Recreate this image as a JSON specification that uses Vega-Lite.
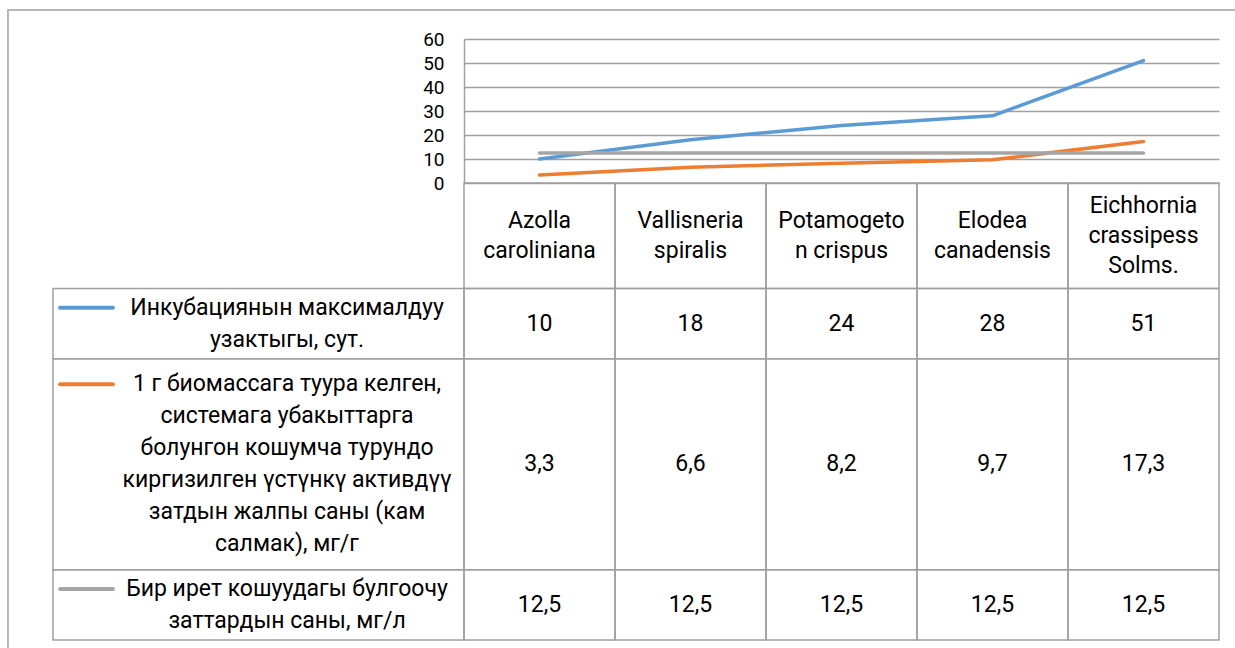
{
  "$schema": "https://vega.github.io/schema/vega-lite/v6.json",
  "width": 755,
  "height": 144,
  "autosize": {"type": "none"},
  "padding": {"left": 464, "top": 39, "right": 16, "bottom": 465},
  "background": "white",
  "config": {
    "view": {"stroke": null},
    "font": "Roboto",
    "locale": {"number": {"decimal": ",", "thousands": " ", "grouping": [3], "currency": ["", ""]}}
  },
  "datasets": {
    "species": [
      {"species": "Azolla caroliniana", "head": "Azolla\ncaroliniana"},
      {"species": "Vallisneria spiralis", "head": "Vallisneria\nspiralis"},
      {"species": "Potamogeton crispus", "head": "Potamogeto\nn crispus"},
      {"species": "Elodea canadensis", "head": "Elodea\ncanadensis"},
      {"species": "Eichhornia crassipess Solms", "head": "Eichhornia\ncrassipess\nSolms."}
    ],
    "series": [
      {"series": "Инкубациянын максималдуу узактыгы, сут.", "label": "Инкубациянын максималдуу\nузактыгы, сут.", "order": 1,
       "Azolla caroliniana": 10, "Vallisneria spiralis": 18, "Potamogeton crispus": 24, "Elodea canadensis": 28, "Eichhornia crassipess Solms": 51},
      {"series": "1 г биомассага туура келген, системага убакыттарга болунгон кошумча турундо киргизилген үстүнкү активдүү затдын жалпы саны (кам салмак), мг/г", "label": "1 г биомассага туура келген,\nсистемага убакыттарга\nболунгон кошумча турундо\nкиргизилген үстүнкү активдүү\nзатдын жалпы саны (кам\nсалмак), мг/г", "order": 2,
       "Azolla caroliniana": 3.3, "Vallisneria spiralis": 6.6, "Potamogeton crispus": 8.2, "Elodea canadensis": 9.7, "Eichhornia crassipess Solms": 17.3},
      {"series": "Бир ирет кошуудагы булгоочу заттардын саны, мг/л", "label": "Бир ирет кошуудагы булгоочу\nзаттардын саны, мг/л", "order": 3,
       "Azolla caroliniana": 12.5, "Vallisneria spiralis": 12.5, "Potamogeton crispus": 12.5, "Elodea canadensis": 12.5, "Eichhornia crassipess Solms": 12.5}
    ],
    "frame": [{"part": "frame"}]
  },
  "resolve": {"scale": {"x": "independent", "y": "independent"}, "axis": {"x": "independent", "y": "independent"}},
  "layer": [
    {
      "data": {"name": "frame"},
      "mark": {"type": "rect", "fillOpacity": 0, "stroke": "#a0a0a0", "strokeWidth": 1.5},
      "encoding": {
        "x": {"datum": -3.02, "type": "quantitative", "scale": {"domain": [0, 5], "nice": false, "zero": false}, "axis": null},
        "x2": {"datum": 5.14},
        "y": {"datum": -4.921, "type": "quantitative", "scale": {"domain": [-4.096, 0], "reverse": true, "nice": false, "zero": false}, "axis": null},
        "y2": {"datum": 13.34}
      }
    },
    {
      "data": {"name": "species"},
      "transform": [
        {"calculate": "length(split(datum.head, '\\n'))", "as": "n"},
        {"joinaggregate": [{"op": "max", "field": "n", "as": "hn"}]},
        {"calculate": "datum.hn * 0", "as": "htop"}
      ],
      "mark": {"type": "rect", "fillOpacity": 0, "stroke": "#a0a0a0", "strokeWidth": 1.5},
      "encoding": {
        "x": {"field": "species", "type": "nominal",
              "scale": {"type": "band", "domain": ["Azolla caroliniana", "Vallisneria spiralis", "Potamogeton crispus", "Elodea canadensis", "Eichhornia crassipess Solms"], "paddingInner": 0, "paddingOuter": 0},
              "axis": null},
        "y": {"field": "htop", "type": "quantitative", "scale": {"domain": [-4.096, 0], "reverse": true, "nice": false, "zero": false}, "axis": null},
        "y2": {"field": "hn"}
      }
    },
    {
      "data": {"name": "species"},
      "transform": [
        {"calculate": "length(split(datum.head, '\\n'))", "as": "n"},
        {"joinaggregate": [{"op": "max", "field": "n", "as": "hn"}]},
        {"calculate": "datum.hn / 2 - (datum.n - 1) * 0.4267", "as": "hy"}
      ],
      "mark": {"type": "text", "lineBreak": "\n", "lineHeight": 30, "fontSize": 23, "font": "Roboto", "color": "#000000", "align": "center", "baseline": "middle"},
      "encoding": {
        "x": {"field": "species", "type": "nominal", "bandPosition": 0.5,
              "scale": {"type": "band", "domain": ["Azolla caroliniana", "Vallisneria spiralis", "Potamogeton crispus", "Elodea canadensis", "Eichhornia crassipess Solms"], "paddingInner": 0, "paddingOuter": 0},
              "axis": null},
        "y": {"field": "hy", "type": "quantitative", "scale": {"domain": [-4.096, 0], "reverse": true, "nice": false, "zero": false}, "axis": null},
        "text": {"field": "head", "type": "nominal"}
      }
    },
    {
      "data": {"name": "series"},
      "transform": [
        {"calculate": "length(split(datum.label, '\\n'))", "as": "n"},
        {"window": [{"op": "sum", "field": "n", "as": "cum"}], "sort": [{"field": "order", "order": "ascending"}]},
        {"calculate": "3 + datum.cum", "as": "bottom"},
        {"calculate": "datum.bottom - datum.n", "as": "top"},
        {"fold": ["Azolla caroliniana", "Vallisneria spiralis", "Potamogeton crispus", "Elodea canadensis", "Eichhornia crassipess Solms"], "as": ["species", "value"]}
      ],
      "mark": {"type": "rect", "fillOpacity": 0, "stroke": "#a0a0a0", "strokeWidth": 1.5},
      "encoding": {
        "x": {"field": "species", "type": "nominal",
              "scale": {"type": "band", "domain": ["Azolla caroliniana", "Vallisneria spiralis", "Potamogeton crispus", "Elodea canadensis", "Eichhornia crassipess Solms"], "paddingInner": 0, "paddingOuter": 0},
              "axis": null},
        "y": {"field": "top", "type": "quantitative", "scale": {"domain": [-4.096, 0], "reverse": true, "nice": false, "zero": false}, "axis": null},
        "y2": {"field": "bottom"}
      }
    },
    {
      "data": {"name": "series"},
      "transform": [
        {"calculate": "length(split(datum.label, '\\n'))", "as": "n"},
        {"window": [{"op": "sum", "field": "n", "as": "cum"}], "sort": [{"field": "order", "order": "ascending"}]},
        {"calculate": "3 + datum.cum - datum.n / 2", "as": "mid"},
        {"fold": ["Azolla caroliniana", "Vallisneria spiralis", "Potamogeton crispus", "Elodea canadensis", "Eichhornia crassipess Solms"], "as": ["species", "value"]}
      ],
      "mark": {"type": "text", "fontSize": 23, "font": "Roboto", "color": "#000000", "align": "center", "baseline": "middle"},
      "encoding": {
        "x": {"field": "species", "type": "nominal", "bandPosition": 0.5,
              "scale": {"type": "band", "domain": ["Azolla caroliniana", "Vallisneria spiralis", "Potamogeton crispus", "Elodea canadensis", "Eichhornia crassipess Solms"], "paddingInner": 0, "paddingOuter": 0},
              "axis": null},
        "y": {"field": "mid", "type": "quantitative", "scale": {"domain": [-4.096, 0], "reverse": true, "nice": false, "zero": false}, "axis": null},
        "text": {"field": "value", "type": "quantitative", "format": "~g"}
      }
    },
    {
      "data": {"name": "series"},
      "transform": [
        {"calculate": "length(split(datum.label, '\\n'))", "as": "n"},
        {"window": [{"op": "sum", "field": "n", "as": "cum"}], "sort": [{"field": "order", "order": "ascending"}]},
        {"calculate": "3 + datum.cum", "as": "bottom"},
        {"calculate": "datum.bottom - datum.n", "as": "top"}
      ],
      "mark": {"type": "rect", "fillOpacity": 0, "stroke": "#a0a0a0", "strokeWidth": 1.5},
      "encoding": {
        "x": {"datum": -2.722, "type": "quantitative", "scale": {"domain": [0, 5], "nice": false, "zero": false}, "axis": null},
        "x2": {"datum": 0},
        "y": {"field": "top", "type": "quantitative", "scale": {"domain": [-4.096, 0], "reverse": true, "nice": false, "zero": false}, "axis": null},
        "y2": {"field": "bottom"}
      }
    },
    {
      "data": {"name": "series"},
      "transform": [
        {"calculate": "length(split(datum.label, '\\n'))", "as": "n"},
        {"window": [{"op": "sum", "field": "n", "as": "cum"}], "sort": [{"field": "order", "order": "ascending"}]},
        {"calculate": "3 + datum.cum - datum.n / 2 - (datum.n - 1) * 0.455", "as": "firstLine"}
      ],
      "mark": {"type": "rule", "strokeWidth": 4, "strokeCap": "round"},
      "encoding": {
        "x": {"datum": -2.675, "type": "quantitative", "scale": {"domain": [0, 5], "nice": false, "zero": false}, "axis": null},
        "x2": {"datum": -2.325},
        "y": {"field": "firstLine", "type": "quantitative", "scale": {"domain": [-4.096, 0], "reverse": true, "nice": false, "zero": false}, "axis": null},
        "color": {"field": "series", "type": "nominal", "legend": null,
                  "scale": {"domain": ["Инкубациянын максималдуу узактыгы, сут.", "1 г биомассага туура келген, системага убакыттарга болунгон кошумча турундо киргизилген үстүнкү активдүү затдын жалпы саны (кам салмак), мг/г", "Бир ирет кошуудагы булгоочу заттардын саны, мг/л"],
                            "range": ["#5b9bd5", "#ed7d31", "#a5a5a5"]}}
      }
    },
    {
      "data": {"name": "series"},
      "transform": [
        {"calculate": "length(split(datum.label, '\\n'))", "as": "n"},
        {"window": [{"op": "sum", "field": "n", "as": "cum"}], "sort": [{"field": "order", "order": "ascending"}]},
        {"calculate": "3 + datum.cum - datum.n / 2 - (datum.n - 1) * 0.455", "as": "firstLine"}
      ],
      "mark": {"type": "text", "lineBreak": "\n", "lineHeight": 32, "fontSize": 23, "font": "Roboto", "color": "#000000", "align": "center", "baseline": "middle"},
      "encoding": {
        "x": {"datum": -1.172, "type": "quantitative", "scale": {"domain": [0, 5], "nice": false, "zero": false}, "axis": null},
        "y": {"field": "firstLine", "type": "quantitative", "scale": {"domain": [-4.096, 0], "reverse": true, "nice": false, "zero": false}, "axis": null},
        "text": {"field": "label", "type": "nominal"}
      }
    },
    {
      "data": {"name": "series"},
      "transform": [
        {"fold": ["Azolla caroliniana", "Vallisneria spiralis", "Potamogeton crispus", "Elodea canadensis", "Eichhornia crassipess Solms"], "as": ["species", "value"]}
      ],
      "mark": {"type": "line", "strokeWidth": 3.5, "strokeCap": "round", "strokeJoin": "round"},
      "encoding": {
        "x": {"field": "species", "type": "nominal", "bandPosition": 0.5,
              "scale": {"type": "band", "domain": ["Azolla caroliniana", "Vallisneria spiralis", "Potamogeton crispus", "Elodea canadensis", "Eichhornia crassipess Solms"], "paddingInner": 0, "paddingOuter": 0},
              "axis": null},
        "y": {"field": "value", "type": "quantitative",
              "scale": {"domain": [0, 60], "nice": false, "zero": false},
              "axis": {"values": [0, 10, 20, 30, 40, 50, 60], "title": null, "grid": true, "gridColor": "#a0a0a0", "gridWidth": 1.5,
                       "domain": true, "domainColor": "#a0a0a0", "domainWidth": 1.5, "ticks": false, "tickSize": 0,
                       "labelPadding": 20, "labelFontSize": 19, "labelFont": "Roboto", "labelColor": "#000000"}},
        "color": {"field": "series", "type": "nominal", "legend": null},
        "order": {"value": null}
      }
    }
  ]
}
